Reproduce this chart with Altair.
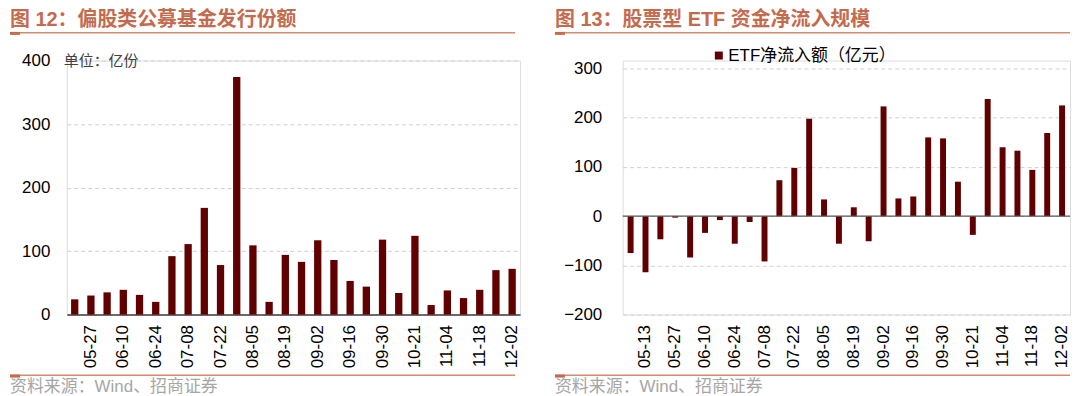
import altair as alt
import pandas as pd

# ---------------- data ----------------
left_dates = ["05-20", "05-27", "06-03", "06-10", "06-17", "06-24", "07-01", "07-08",
              "07-15", "07-22", "07-29", "08-05", "08-12", "08-19", "08-26", "09-02",
              "09-09", "09-16", "09-23", "09-30", "10-14", "10-21", "10-28", "11-04",
              "11-11", "11-18", "11-25", "12-02"]
left_values = [24, 30, 35, 39, 31, 20, 92, 111, 168, 78, 374, 109, 20, 94, 83, 117,
               86, 53, 44, 118, 34, 124, 15, 38, 26, 39, 70, 72]
left_labels = left_dates[1::2]

right_dates = ["05-06", "05-13", "05-20", "05-27", "06-03", "06-10", "06-17", "06-24",
               "07-01", "07-08", "07-15", "07-22", "07-29", "08-05", "08-12", "08-19",
               "08-26", "09-02", "09-09", "09-16", "09-23", "09-30", "10-14", "10-21",
               "10-28", "11-04", "11-11", "11-18", "11-25", "12-02"]
right_values = [-75, -114, -47, -3, -84, -34, -8, -56, -12, -92, 73, 98, 198, 34, -56,
                18, -51, 223, 36, 40, 160, 158, 70, -38, 238, 140, 133, 94, 169, 225]
right_labels = right_dates[1::2]

left_ticks = [0, 100, 200, 300, 400]
right_ticks = [-200, -100, 0, 100, 200, 300]

left_title = "图 12：偏股类公募基金发行份额"
right_title = "图 13：股票型 ETF 资金净流入规模"
left_unit = "单位：亿份"
right_series = "ETF净流入额（亿元）"
source_text = "资料来源：Wind、招商证券"

# ---------------- styles ----------------
FONT = "'Liberation Sans', 'Noto Sans CJK SC', sans-serif"
BAR = "#600000"
TITLE_C = "#C46B4E"
RULE_C = "#D88A6C"
GRID_C = "#d0d0d0"
SRC_C = "#a6a6a6"


def one(v):
    return pd.DataFrame({"t": [v]})


def decorations(title, title_x, rule_x2):
    # all positions relative to the plot origin (shared by both panels)
    t = alt.Chart(one(title)).mark_text(
        align="left", baseline="alphabetic", font=FONT, fontSize=20, fontWeight="bold",
        color=TITLE_C
    ).encode(x=alt.value(title_x), y=alt.value(-35), text="t:N")
    r1 = alt.Chart(one(0)).mark_rule(color=RULE_C, strokeWidth=1.5).encode(
        x=alt.value(title_x), x2=alt.value(rule_x2), y=alt.value(-28))
    r1b = alt.Chart(one(0)).mark_rule(color=TITLE_C, strokeWidth=3).encode(
        x=alt.value(title_x), x2=alt.value(title_x + 10), y=alt.value(-27.25))
    r2 = alt.Chart(one(0)).mark_rule(color=RULE_C, strokeWidth=1.5).encode(
        x=alt.value(title_x), x2=alt.value(rule_x2), y=alt.value(316))
    r2b = alt.Chart(one(0)).mark_rule(color=TITLE_C, strokeWidth=3).encode(
        x=alt.value(title_x), x2=alt.value(title_x + 10), y=alt.value(316.75))
    s = alt.Chart(one(source_text)).mark_text(
        align="left", baseline="alphabetic", font=FONT, fontSize=17, color=SRC_C
    ).encode(x=alt.value(title_x), y=alt.value(333), text="t:N")
    return [t, r1, r1b, r2, r2b, s]


AX_LABEL = dict(labelFontSize=17, labelFont=FONT, labelColor="#000000")

# ---------------- left panel ----------------
LW, LH = 455, 255
df_l = pd.DataFrame({"date": left_dates, "value": left_values})

left_bars = alt.Chart(df_l).mark_bar(color=BAR).encode(
    x=alt.X("date:N", sort=None,
            scale=alt.Scale(paddingInner=0.55, paddingOuter=0.265),
            axis=alt.Axis(title=None, values=left_labels, labelAngle=270, ticks=False,
                          domain=True, domainColor="#404040", domainWidth=1.5,
                          labelPadding=10, grid=False, **AX_LABEL)),
    y=alt.Y("value:Q", scale=alt.Scale(domain=[0, 400], nice=False),
            axis=alt.Axis(title=None, values=left_ticks, domain=False, ticks=False,
                          grid=True, gridDash=[4, 3], gridColor=GRID_C,
                          labelPadding=17, **AX_LABEL)),
)
left_unit_txt = alt.Chart(one(left_unit)).mark_text(
    align="left", baseline="middle", font=FONT, fontSize=15, color="#404040"
).encode(x=alt.value(-3), y=alt.value(0), text="t:N")

left = alt.layer(
    left_bars, left_unit_txt, *decorations(left_title, -57, 450)
).properties(width=LW, height=LH)

# ---------------- right panel ----------------
RW, RH = 449, 255
df_r = pd.DataFrame({"date": right_dates, "value": right_values})

right_bars = alt.Chart(df_r).mark_bar(color=BAR).encode(
    x=alt.X("date:N", sort=None,
            scale=alt.Scale(paddingInner=0.6, paddingOuter=0.333),
            axis=alt.Axis(title=None, values=right_labels, labelAngle=270, ticks=False,
                          domain=False, labelPadding=10, grid=False, **AX_LABEL)),
    y=alt.Y("value:Q", scale=alt.Scale(domain=[-200, 316.2], nice=False),
            axis=alt.Axis(title=None, values=right_ticks, domain=False, ticks=False,
                          grid=True, gridDash=[4, 3], gridColor=GRID_C,
                          labelPadding=21, **AX_LABEL)),
)
zero_rule = alt.Chart(pd.DataFrame({"z": [0]})).mark_rule(
    color="#595959", strokeWidth=1.2).encode(y="z:Q")

legend_sq = alt.Chart(one(right_series)).mark_square(
    size=64, color=BAR, opacity=1, strokeWidth=0
).encode(x=alt.value(96.5), y=alt.value(-5))
legend_txt = alt.Chart(one(right_series)).mark_text(
    align="left", baseline="middle", font=FONT, fontSize=17, color="#000000"
).encode(x=alt.value(106), y=alt.value(-5), text="t:N")

right = alt.layer(
    right_bars, zero_rule, legend_sq, legend_txt, *decorations(right_title, -68, 449)
).properties(width=RW, height=RH)

chart = alt.hconcat(left, right, spacing=32).properties(padding=0).configure_view(
    stroke=None
).configure(font=FONT)

chart.save("out.html", embed_options={"renderer": "svg", "actions": False})
